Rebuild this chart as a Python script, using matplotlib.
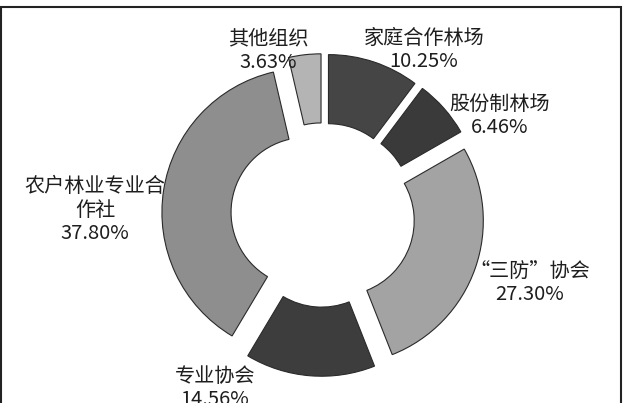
import matplotlib
matplotlib.use("Agg")
import matplotlib.pyplot as plt
from matplotlib.patches import Rectangle

plt.rcParams['font.family'] = ['Noto Sans CJK SC', 'DejaVu Sans']

# shares of forestry cooperation organisations (clockwise from top)
names = ['家庭合作林场', '股份制林场', '“三防”协会', '专业协会', '农户林业专业合\n作社', '其他组织']
shares = [10.25, 6.46, 27.30, 14.56, 37.80, 3.63]
colors = ['#454545', '#3a3a3a', '#a3a3a3', '#3d3d3d', '#8e8e8e', '#b4b4b4']

# label positions in pixels (x, y from top)
label_pos = [(424, 50), (500, 116), (530, 283), (215, 388), (95, 210), (268, 51)]

W, H = 630, 403
cx, cy, R = 323, 215, 144

fig = plt.figure(figsize=(W / 100, H / 100), dpi=100)
ax = fig.add_axes([0, 0, 1, 1])

wedges, _ = ax.pie(shares, colors=colors, startangle=90, counterclock=False,
                   explode=[0.12] * len(shares), radius=1.0,
                   wedgeprops=dict(width=0.48, edgecolor='#2a2a2a', linewidth=0.8))

ax.set_xlim(-cx / R, (W - cx) / R)
ax.set_ylim(-(H - cy) / R, cy / R)
ax.set_aspect('auto')
ax.axis('off')

for name, val, (px, py) in zip(names, shares, label_pos):
    fig.text(px / W, 1 - py / H, f'{name}\n{val:.2f}%', ha='center', va='center',
             fontsize=14.5, color='#1e1e1e', linespacing=1.15)

# outer frame
fig.patches.append(Rectangle((1 / W, -0.05), 620 / W, 1.05 - 7 / H,
                             transform=fig.transFigure, fill=False,
                             edgecolor='#222222', linewidth=1.5))

fig.savefig('out.png', dpi=100)
